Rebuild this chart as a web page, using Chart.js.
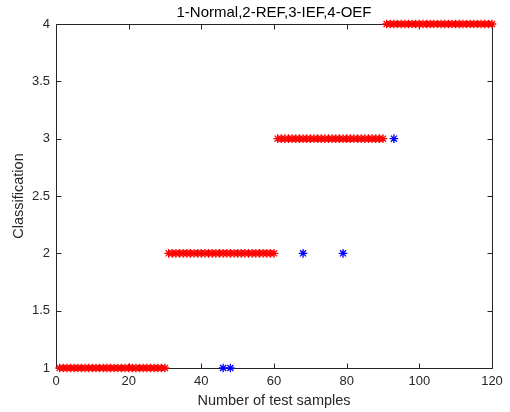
<!DOCTYPE html>
<html>
<head>
<meta charset="utf-8">
<script src="https://cdn.jsdelivr.net/npm/chart.js@4/dist/chart.umd.min.js"></script>
<style>
html,body{margin:0;padding:0;background:#fff;}
#c{display:block;}
</style>
</head>
<body>
<canvas id="c" width="510" height="412" style="width:510px;height:412px"></canvas>
<script>
const chartTitle = "1-Normal,2-REF,3-IEF,4-OEF";
const xLabel = "Number of test samples";
const yLabel = "Classification";

const sampleIdx = [1,2,3,4,5,6,7,8,9,10,11,12,13,14,15,16,17,18,19,20,21,22,23,24,25,26,27,28,29,30,
31,32,33,34,35,36,37,38,39,40,41,42,43,44,45,46,47,48,49,50,51,52,53,54,55,56,57,58,59,60,
61,62,63,64,65,66,67,68,69,70,71,72,73,74,75,76,77,78,79,80,81,82,83,84,85,86,87,88,89,90,
91,92,93,94,95,96,97,98,99,100,101,102,103,104,105,106,107,108,109,110,111,112,113,114,115,116,117,118,119,120];
const actualClass = [1,1,1,1,1,1,1,1,1,1,1,1,1,1,1,1,1,1,1,1,1,1,1,1,1,1,1,1,1,1,
2,2,2,2,2,2,2,2,2,2,2,2,2,2,2,2,2,2,2,2,2,2,2,2,2,2,2,2,2,2,
3,3,3,3,3,3,3,3,3,3,3,3,3,3,3,3,3,3,3,3,3,3,3,3,3,3,3,3,3,3,
4,4,4,4,4,4,4,4,4,4,4,4,4,4,4,4,4,4,4,4,4,4,4,4,4,4,4,4,4,4];
const wrongIdx = [46, 48, 68, 79, 93];
const wrongClass = [1, 1, 2, 2, 3];

const xTickValues = [0, 20, 40, 60, 80, 100, 120];
const yTickValues = [1, 1.5, 2, 2.5, 3, 3.5, 4];

const FONT = "'Liberation Sans', Arial, Helvetica, sans-serif";
const AX = '#262626';

const axesPlugin = {
  id: 'matlabAxes',
  beforeDatasetsDraw(chart) {
    const {ctx, chartArea: a, scales} = chart;
    ctx.save();
    ctx.strokeStyle = AX;
    ctx.lineWidth = 1;
    ctx.beginPath();
    const L = Math.round(a.left) + 0.5, R = Math.round(a.right) + 0.5;
    const T = Math.round(a.top) + 0.5, B = Math.round(a.bottom) + 0.5;
    ctx.rect(L, T, R - L, B - T);
    const tl = 5;
    scales.x.ticks.forEach(t => {
      const x = Math.round(scales.x.getPixelForValue(t.value)) + 0.5;
      ctx.moveTo(x, B); ctx.lineTo(x, B - tl);
      ctx.moveTo(x, T); ctx.lineTo(x, T + tl);
    });
    scales.y.ticks.forEach(t => {
      const y = Math.round(scales.y.getPixelForValue(t.value)) + 0.5;
      ctx.moveTo(L, y); ctx.lineTo(L + tl, y);
      ctx.moveTo(R, y); ctx.lineTo(R - tl, y);
    });
    ctx.stroke();
    ctx.restore();
  },
  afterDraw(chart) {
    const {ctx, chartArea: a} = chart;
    ctx.save();
    ctx.fillStyle = '#000';
    ctx.font = '15px ' + FONT;
    ctx.textAlign = 'center';
    ctx.textBaseline = 'middle';
    ctx.fillText(chartTitle, (a.left + a.right) / 2, 13);
    ctx.restore();
  }
};

new Chart(document.getElementById('c'), {
  type: 'scatter',
  data: {
    datasets: [
      {
        data: sampleIdx.map((x, i) => ({x: x, y: actualClass[i]})),
        pointStyle: 'star', radius: 4.3, borderColor: '#ff0000', backgroundColor: '#ff0000',
        borderWidth: 1.3, clip: false
      },
      {
        data: wrongIdx.map((x, i) => ({x: x, y: wrongClass[i]})),
        pointStyle: 'star', radius: 4.3, borderColor: '#0000ff', backgroundColor: '#0000ff',
        borderWidth: 1.3, clip: false
      }
    ]
  },
  options: {
    responsive: false,
    animation: false,
    devicePixelRatio: 1,
    layout: {padding: {top: 24, right: 18, left: 0, bottom: 0}},
    plugins: {legend: {display: false}, tooltip: {enabled: false}, title: {display: false}},
    scales: {
      x: {
        type: 'linear', min: 0, max: 120,
        afterBuildTicks: s => { s.ticks = xTickValues.map(v => ({value: v})); },
        afterFit: s => { s.height = 44; },
        grid: {display: false, drawTicks: false},
        border: {display: false},
        ticks: {color: AX, font: {family: FONT, size: 13}, padding: 6, maxRotation: 0,
                callback: v => String(v)},
        title: {display: true, text: xLabel, color: AX, font: {family: FONT, size: 14.5},
                padding: {top: 0, bottom: 2}}
      },
      y: {
        type: 'linear', min: 1, max: 4,
        afterBuildTicks: s => { s.ticks = yTickValues.map(v => ({value: v})); },
        afterFit: s => { s.width = 56; },
        grid: {display: false, drawTicks: false},
        border: {display: false},
        ticks: {color: AX, font: {family: FONT, size: 13}, padding: 6,
                callback: v => String(v)},
        title: {display: true, text: yLabel, color: AX, font: {family: FONT, size: 14.5},
                padding: {top: 10, bottom: 0}}
      }
    }
  },
  plugins: [axesPlugin]
});
</script>
</body>
</html>
